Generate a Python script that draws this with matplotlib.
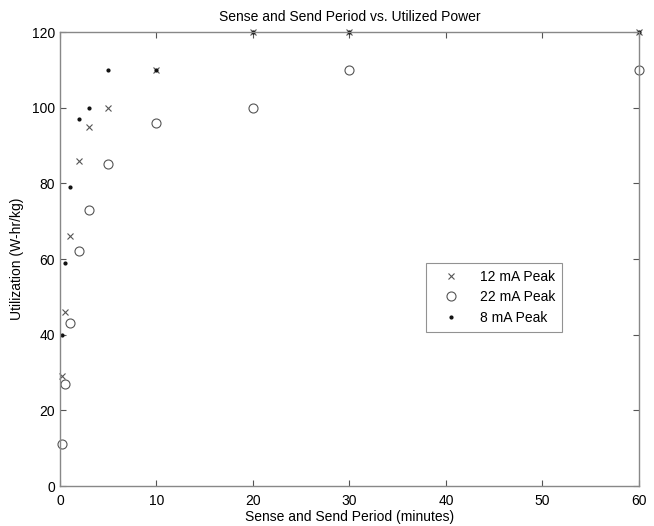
import matplotlib
matplotlib.use("Agg")
import matplotlib.pyplot as plt

plt.rcParams['font.family'] = ['Liberation Sans', 'DejaVu Sans']

period = [0.25, 0.5, 1, 2, 3, 5, 10, 20, 30, 60]
util_12mA = [29, 46, 66, 86, 95, 100, 110, 120, 120, 120]
util_22mA = [11, 27, 43, 62, 73, 85, 96, 100, 110, 110]
util_8mA = [40, 59, 79, 97, 100, 110, 110, 120, 120, 120]

xticks = [0, 10, 20, 30, 40, 50, 60]
yticks = [0, 20, 40, 60, 80, 100, 120]

fig = plt.figure(figsize=(6.54, 5.26), dpi=100)
ax = fig.add_axes([0.0917, 0.076, 0.8853, 0.863])

mc = '#555555'
ax.plot(period, util_12mA, linestyle='none', marker='x', markersize=5,
        markeredgewidth=0.8, color=mc, label='12 mA Peak', clip_on=False)
ax.plot(period, util_22mA, linestyle='none', marker='o', markersize=6.5,
        markerfacecolor='none', markeredgewidth=0.8, color=mc, label='22 mA Peak',
        clip_on=False)
ax.plot(period, util_8mA, linestyle='none', marker='.', markersize=4,
        color='#111111', label='8 mA Peak', clip_on=False)

ax.set_xlim(0, 60)
ax.set_ylim(0, 120)
ax.set_xticks(xticks)
ax.set_yticks(yticks)
ax.tick_params(direction='in', length=4, width=0.8, colors='#555555',
               labelcolor='black', labelsize=10, top=True, right=True)
ax.tick_params(axis='x', pad=6)
ax.tick_params(axis='y', pad=3.5)
for s in ax.spines.values():
    s.set_color('#888888')
    s.set_linewidth(1.0)

ax.set_title('Sense and Send Period vs. Utilized Power', fontsize=10, pad=8)
ax.set_xlabel('Sense and Send Period (minutes)', fontsize=10, labelpad=1)
ax.set_ylabel('Utilization (W-hr/kg)', fontsize=10, labelpad=6)

leg = ax.legend(loc='upper left', bbox_to_anchor=(0.632, 0.491), fontsize=10,
                frameon=True, fancybox=False, edgecolor='#777777',
                handlelength=2.6, handletextpad=0.8, borderpad=0.5,
                labelspacing=0.45, borderaxespad=0)
leg.get_frame().set_linewidth(0.8)

fig.savefig('out.png', dpi=100)
